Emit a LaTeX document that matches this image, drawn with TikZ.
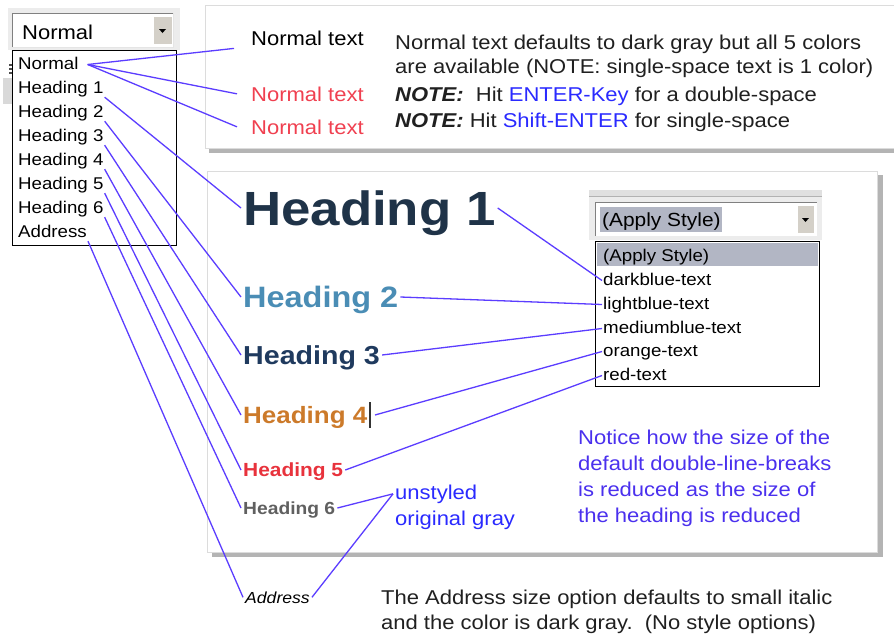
\documentclass[tikz,border=0pt]{standalone}
\usepackage{fontspec}
\setmainfont[FakeStretch=1.1]{Liberation Sans}
\newcommand\fsz[1]{\fontsize{#1}{#1}\selectfont}
\definecolor{linkc}{HTML}{5B3DFF}
\definecolor{bodyc}{HTML}{202020}
\definecolor{bluetx}{HTML}{2A2AFF}
\definecolor{notic}{HTML}{4A30EE}
\definecolor{redtx}{HTML}{F04050}
\definecolor{hone}{HTML}{1F3348}
\definecolor{htwo}{HTML}{4A8DB5}
\definecolor{hthree}{HTML}{1F3A5E}
\definecolor{hfour}{HTML}{CC7A2A}
\definecolor{hfive}{HTML}{E8323C}
\definecolor{hsix}{HTML}{606060}
\definecolor{guigray}{HTML}{ECECEC}
\definecolor{btngray}{HTML}{D4D0C8}
\definecolor{hilite}{HTML}{B2B6C4}
\definecolor{shad}{HTML}{B4B4B4}
\definecolor{pborder}{HTML}{DCDCDC}
\begin{document}
\begin{tikzpicture}[x=1pt,y=-1pt,
  item/.style={anchor=base west, font=\fsz{17}, inner sep=1pt, text height=12pt, text depth=3pt, text=black},
  hd/.style={anchor=west, inner sep=2pt, text depth=0pt},
  txt/.style={anchor=base west, inner sep=0pt, text=bodyc},
  link/.style={draw=linkc, line width=1.3pt},
  panel/.style={fill=white, draw=pborder, line width=1pt},
  shadow/.style={fill=shad, draw=none}]
\useasboundingbox (0,0) rectangle (894,635);
% ---------- panels ----------
\fill[shad] (209,145) rectangle (894,153);
\draw[panel] (205,5) rectangle (900,148);
\fill[shad] (212,175) rectangle (883,557);
\draw[panel] (207,171) rectangle (877,552);
% ---------- top-left combo ----------
\fill[guigray] (8,8) rectangle (180,50);
\fill[white] (12,13) rectangle (173,47);
\draw[gray] (12,47) -- (12,13) -- (173,13);
\draw[white!80!gray] (173,13) -- (173,47) -- (12,47);
\fill[btngray] (153,16) rectangle (172,44);
\draw[white] (153,44) -- (153,16) -- (172,16);
\fill[black] (159,29) -- (166,29) -- (162.5,33) -- cycle;
\node (cbn) [txt, text=black, font=\fsz{20}] at (22,39) {Normal};
\fill[black!70] (9,64) rectangle (12,66);
\fill[black!70] (9,68) rectangle (12,70);
\fill[black!70] (9,72) rectangle (12,74);
\fill[black!15] (3,78) rectangle (12,104);
% dropdown list
\draw[fill=white, line width=1pt] (12,50) rectangle (176,245);
\node (nrm) [item] at (17,69) {Normal};
\node (i1) [item] at (17,93) {Heading 1};
\node (i2) [item] at (17,117) {Heading 2};
\node (i3) [item] at (17,141) {Heading 3};
\node (i4) [item] at (17,165) {Heading 4};
\node (i5) [item] at (17,189) {Heading 5};
\node (i6) [item] at (17,213) {Heading 6};
\node (ia) [item] at (17,237) {Address};
% ---------- top panel texts ----------
\node (nt1) [txt, text=black, font=\fsz{20}] at (251,45) {Normal text};
\node (nt2) [txt, text=redtx, font=\fsz{20}] at (251,101) {Normal text};
\node (nt3) [txt, text=redtx, font=\fsz{20}] at (251,134) {Normal text};
\node (p1) [txt, font=\fsz{20}] at (395,49) {Normal text defaults to dark gray but all 5 colors};
\node (p2) [txt, font=\fsz{20}] at (395,73) {are available (NOTE: single-space text is 1 color)};
\node (p3) [txt, font=\fsz{20}] at (395,101) {\textbf{\textit{NOTE:}}\ \ Hit \textcolor{bluetx}{ENTER-Key} for a double-space};
\node (p4) [txt, font=\fsz{20}] at (395,127) {\textbf{\textit{NOTE:}} Hit \textcolor{bluetx}{Shift-ENTER} for single-space};
% ---------- headings ----------
\node (h1) [hd, text=hone, font=\bfseries\fsz{48}] at (241,208) {Heading 1};
\node (h2) [hd, text=htwo, font=\bfseries\fsz{29.5}] at (241,297) {Heading 2};
\node (h3) [hd, text=hthree, font=\bfseries\fsz{26}] at (241,355) {Heading 3};
\node (h4) [hd, text=hfour, font=\bfseries\fsz{23.6}] at (241,415) {Heading 4};
\node (h5) [hd, text=hfive, font=\bfseries\fsz{19}] at (241,470) {Heading 5};
\node (h6) [hd, text=hsix, font=\bfseries\fsz{17.5}] at (241,508) {Heading 6};
\node (cur) [fill=black!80, minimum width=1.6pt, minimum height=26pt, inner sep=0pt] at (370,415) {};
\node (uns) [txt, text=bluetx, font=\fsz{20}, inner sep=2pt] at (393,499) {unstyled};
\node (org) [txt, text=bluetx, font=\fsz{20}] at (395,525) {original gray};
\node (ntc) [txt, text=notic, font=\fontsize{20}{26}\selectfont, align=left] at (578,522)
  {Notice how the size of the\\default double-line-breaks\\is reduced as the size of\\the heading is reduced};
% ---------- apply style combo ----------
\fill[black!12] (589,190) rectangle (822,197);
\draw[black!30] (589,196) -- (822,196);
\fill[guigray] (589,197) rectangle (822,240);
\fill[white] (595,202) rectangle (817,236);
\draw[gray] (595,236) -- (595,202) -- (817,202);
\fill[hilite] (600,207) rectangle (722,232);
\fill[btngray] (797,205) rectangle (814,233);
\draw[white] (797,233) -- (797,205) -- (814,205);
\fill[black] (802,218) -- (809,218) -- (805.5,222) -- cycle;
\node (aps) [txt, text=black, font=\fsz{19}] at (602,226) {(Apply Style)};
\draw[fill=white, line width=1pt] (595,241) rectangle (819,386);
\fill[hilite] (596.5,242.5) rectangle (817.5,266);
\node (dap) [item] at (602,261) {(Apply Style)};
\node (dbt) [item] at (602,285) {darkblue-text};
\node (lbt) [item] at (602,309) {lightblue-text};
\node (mbt) [item] at (602,333) {mediumblue-text};
\node (ort) [item] at (602,356) {orange-text};
\node (rdt) [item] at (602,380) {red-text};
% ---------- bottom ----------
\node (addr) [txt, text=black, font=\itshape\fsz{16}, inner sep=2pt] at (243,603) {Address};
\node (btx) [txt, font=\fontsize{20}{25}\selectfont, align=left] at (381,629)
  {The Address size option defaults to small italic\\and the color is dark gray.\ \ (No style options)};
% ---------- connectors ----------
\draw[link] ([xshift=8pt]nrm.east) -- ([xshift=-17pt,yshift=-3pt]nt1.south west);
\draw[link] ([xshift=8pt]nrm.east) -- ([xshift=-14pt]nt2.west);
\draw[link] ([xshift=8pt]nrm.east) -- ([xshift=-14pt]nt3.west);
\draw[link] (i1.south east) -- (h1.west);
\draw[link] (i2.south east) -- (h2.west);
\draw[link] (i3.south east) -- (h3.west);
\draw[link] (i4.south east) -- (h4.west);
\draw[link] (i5.south east) -- (h5.west);
\draw[link] (i6.south east) -- (h6.west);
\draw[link] (ia.south east) -- (addr.west);
\draw[link] (h1.east) -- (dbt.west);
\draw[link] (h2.east) -- (lbt.west);
\draw[link] (h3.east) -- (mbt.west);
\draw[link] ([xshift=4pt]cur.east) -- (ort.west);
\draw[link] (h5.east) -- (rdt.west);
\draw[link] (h6.east) -- (uns.west);
\draw[link] (addr.east) -- (uns.west);
\end{tikzpicture}
\end{document}
